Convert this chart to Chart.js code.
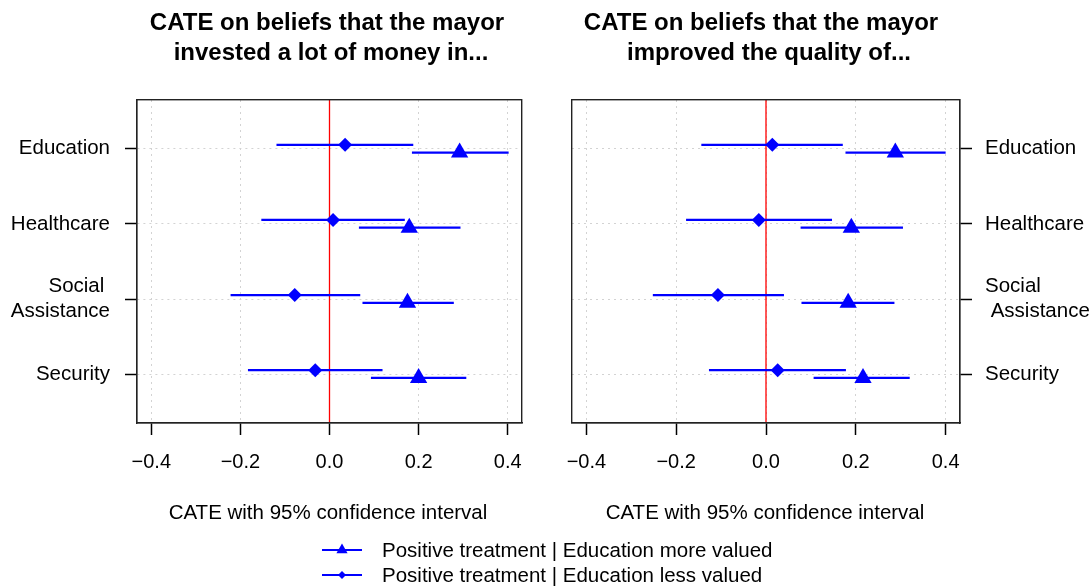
<!DOCTYPE html>
<html>
<head>
<meta charset="utf-8">
<title>CATE on beliefs about the mayor</title>
<script src="https://cdn.jsdelivr.net/npm/chart.js@4/dist/chart.umd.min.js"></script>
<style>
  html, body { margin: 0; padding: 0; background: #fff; }
  body {
    width: 1091px; height: 586px; position: relative; overflow: hidden;
    font-family: "Liberation Sans", Arial, Helvetica, sans-serif; color: #000;
  }
  canvas { position: absolute; top: 0; }
  #chartMoney { left: 0; }
  #chartQuality { left: 545px; }
  .t { position: absolute; width: 600px; margin-left: -300px; text-align: center; white-space: pre; }
  .title { font-weight: bold; font-size: 24px; line-height: 30px; }
  .xlab { font-size: 20.5px; line-height: 24px; top: 500px; }
  .leg { position: absolute; left: 322px; height: 24px; display: flex; align-items: center;
         font-size: 20.5px; white-space: pre; }
  .leg svg { width: 40px; height: 24px; margin-right: 20px; flex: none; }
</style>
</head>
<body>
<canvas id="chartMoney" width="545" height="586"></canvas>
<canvas id="chartQuality" width="546" height="586"></canvas>

<div class="t title" style="left:327px;top:7px">CATE on beliefs that the mayor</div>
<div class="t title" style="left:331px;top:37px">invested a lot of money in...</div>
<div class="t title" style="left:761px;top:7px">CATE on beliefs that the mayor</div>
<div class="t title" style="left:769px;top:37px">improved the quality of...</div>

<div class="t xlab" style="left:328px">CATE with 95% confidence interval</div>
<div class="t xlab" style="left:765px">CATE with 95% confidence interval</div>

<div class="leg" style="top:538px">
  <svg viewBox="0 0 40 24"><line x1="0" y1="12" x2="40" y2="12" stroke="#0000ff" stroke-width="2"/><polygon points="20,5.5 25.6,15.25 14.4,15.25" fill="#0000ff"/></svg>
  <span>Positive treatment | Education more valued</span>
</div>
<div class="leg" style="top:563px">
  <svg viewBox="0 0 40 24"><line x1="0" y1="12" x2="40" y2="12" stroke="#0000ff" stroke-width="2"/><polygon points="20,8 24,12 20,16 16,12" fill="#0000ff"/></svg>
  <span>Positive treatment | Education less valued</span>
</div>

<script>
// ---- data -------------------------------------------------------------
const categories = ['Education', 'Healthcare', 'Social Assistance', 'Security'];
const catPos = [1, 2, 3, 4];
const leftTickLabels = ['Education', 'Healthcare', ['Social ', 'Assistance'], 'Security'];
const rightTickLabels = ['Education', 'Healthcare', ['Social', ' Assistance'], 'Security'];
const xTicks = [-0.4, -0.2, 0, 0.2, 0.4];

// "invested a lot of money in..."
const moneyMoreEst = [0.292, 0.179, 0.175, 0.200];
const moneyMoreLo  = [0.185, 0.066, 0.074, 0.093];
const moneyMoreHi  = [0.402, 0.294, 0.279, 0.307];
const moneyLessEst = [0.035, 0.008, -0.078, -0.032];
const moneyLessLo  = [-0.119, -0.153, -0.222, -0.183];
const moneyLessHi  = [0.188, 0.169, 0.069, 0.119];

// "improved the quality of..."
const qualityMoreEst = [0.288, 0.190, 0.183, 0.216];
const qualityMoreLo  = [0.177, 0.077, 0.079, 0.106];
const qualityMoreHi  = [0.400, 0.305, 0.286, 0.320];
const qualityLessEst = [0.014, -0.016, -0.107, 0.026];
const qualityLessLo  = [-0.144, -0.178, -0.252, -0.127];
const qualityLessHi  = [0.171, 0.147, 0.040, 0.178];

// ---- styling ----------------------------------------------------------
const BLUE = '#0000ff';
const GRID = '#d3d3d3';
const FONT = "'Liberation Sans', Arial, Helvetica, sans-serif";
const X_MIN = -0.432, X_MAX = 0.432;
const Y_MIN = 0.35, Y_MAX = 4.65;
const MORE_OFF = 0.05;    // "more valued" row sits slightly below the category line
const LESS_OFF = -0.053;  // "less valued" row sits slightly above it
const FRAME_W = 1.4;

const fmtTick = v => (v < 0 ? '\u2212' : '') + Math.abs(v).toFixed(1);
const align = p => Math.round(p - FRAME_W / 2) + FRAME_W / 2;

// box around the plotting region, on the same pixel grid as the axis borders
const framePlugin = {
  id: 'frame',
  afterDraw(chart) {
    const { ctx, chartArea: a } = chart;
    const l = align(a.left), r = align(a.right), t = align(a.top), b = align(a.bottom);
    ctx.save();
    ctx.strokeStyle = '#222';
    ctx.lineWidth = FRAME_W;
    ctx.strokeRect(l, t, r - l, b - t);
    ctx.restore();
  }
};

function buildDatasets(moreEst, moreLo, moreHi, lessEst, lessLo, lessHi) {
  const ds = [];
  ds.push({
    label: 'Positive treatment | Education more valued',
    data: catPos.map((p, i) => ({ x: moreEst[i], y: p + MORE_OFF })),
    pointStyle: 'triangle', pointRadius: 10, backgroundColor: BLUE, borderWidth: 0
  });
  ds.push({
    label: 'Positive treatment | Education less valued',
    data: catPos.map((p, i) => ({ x: lessEst[i], y: p + LESS_OFF })),
    pointStyle: 'rectRot', pointRadius: 7, backgroundColor: BLUE, borderWidth: 0
  });
  catPos.forEach((p, i) => {
    ds.push({
      data: [{ x: moreLo[i], y: p + MORE_OFF }, { x: moreHi[i], y: p + MORE_OFF }],
      showLine: true, borderColor: BLUE, borderWidth: 2.2, pointRadius: 0
    });
    ds.push({
      data: [{ x: lessLo[i], y: p + LESS_OFF }, { x: lessHi[i], y: p + LESS_OFF }],
      showLine: true, borderColor: BLUE, borderWidth: 2.2, pointRadius: 0
    });
  });
  // reference line at zero, painted underneath everything else
  ds.push({
    data: [{ x: 0, y: Y_MIN }, { x: 0, y: Y_MAX }],
    showLine: true, borderColor: '#ff0000', borderWidth: 1.3, pointRadius: 0
  });
  return ds;
}

function makeChart(canvasId, side, tickLabels, datasets) {
  const gridOpts = {
    color: GRID, lineWidth: 1,
    tickLength: 12, tickColor: '#000', tickWidth: 1.5, tickBorderDash: []
  };
  const borderOpts = { display: true, color: '#222', width: FRAME_W, dash: [2, 4] };
  return new Chart(document.getElementById(canvasId), {
    type: 'scatter',
    data: { datasets },
    plugins: [framePlugin],
    options: {
      responsive: false,
      animation: false,
      events: [],
      layout: {
        padding: side === 'left'
          ? { top: 100, left: 0, right: 23, bottom: 0 }
          : { top: 100, left: 27, right: 0, bottom: 0 }
      },
      plugins: { legend: { display: false }, tooltip: { enabled: false }, title: { display: false } },
      scales: {
        x: {
          type: 'linear', position: 'bottom', min: X_MIN, max: X_MAX,
          afterBuildTicks: a => { a.ticks = xTicks.map(v => ({ value: v })); },
          afterFit: a => { a.height = 163; },
          grid: gridOpts,
          border: borderOpts,
          ticks: {
            color: '#000', font: { family: FONT, size: 20, lineHeight: 1.2 },
            padding: 15.5, maxRotation: 0, autoSkip: false,
            callback: v => fmtTick(v)
          }
        },
        y: {
          type: 'linear', position: side, reverse: true, min: Y_MIN, max: Y_MAX,
          afterBuildTicks: a => { a.ticks = catPos.map(v => ({ value: v })); },
          afterFit: a => { a.width = side === 'left' ? 137 : 131; },
          grid: gridOpts,
          border: borderOpts,
          ticks: {
            color: '#000', font: { family: FONT, size: 20.5, lineHeight: 1.2 },
            padding: side === 'left' ? 15 : 13, autoSkip: false,
            callback: (v, i) => tickLabels[i]
          }
        }
      }
    }
  });
}

makeChart('chartMoney', 'left', leftTickLabels,
  buildDatasets(moneyMoreEst, moneyMoreLo, moneyMoreHi, moneyLessEst, moneyLessLo, moneyLessHi));
makeChart('chartQuality', 'right', rightTickLabels,
  buildDatasets(qualityMoreEst, qualityMoreLo, qualityMoreHi, qualityLessEst, qualityLessLo, qualityLessHi));
</script>
</body>
</html>
